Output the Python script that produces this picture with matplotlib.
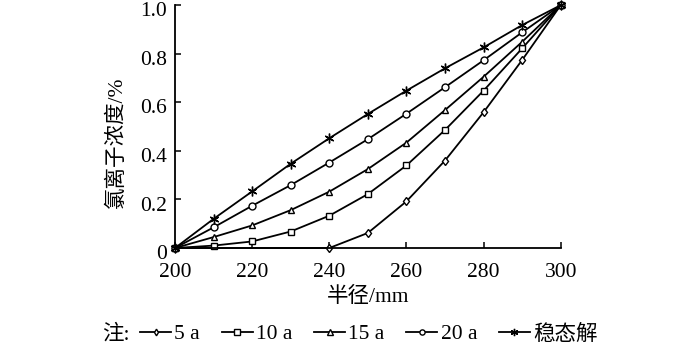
import matplotlib
matplotlib.use("Agg")
import matplotlib.pyplot as plt
import matplotlib.transforms as mtransforms

plt.rcParams['font.family'] = ['Liberation Serif', 'Noto Sans CJK SC']
plt.rcParams['axes.unicode_minus'] = False

# radius (mm) and chloride concentration for each exposure time
r_all = [200, 210, 220, 230, 240, 250, 260, 270, 280, 290, 300]
r_5a = [200, 240, 250, 260, 270, 280, 290, 300]
c_5a = [0, 0, 0.062, 0.192, 0.36, 0.559, 0.774, 1.0]
c_10a = [0, 0.01, 0.027, 0.068, 0.133, 0.222, 0.34, 0.486, 0.648, 0.822, 1.0]
c_15a = [0, 0.045, 0.093, 0.156, 0.232, 0.325, 0.434, 0.568, 0.705, 0.849, 1.0]
c_20a = [0, 0.085, 0.174, 0.259, 0.352, 0.448, 0.553, 0.662, 0.773, 0.888, 1.0]
c_steady = [0, 0.12, 0.233, 0.347, 0.452, 0.552, 0.648, 0.74, 0.826, 0.918, 1.0]

labels = ['5 a', '10 a', '15 a', '20 a', '稳态解']
xticks = [200, 220, 240, 260, 280, 300]
yticks = [0, 0.2, 0.4, 0.6, 0.8, 1.0]
ytick_labels = ['0', '0.2', '0.4', '0.6', '0.8', '1.0']

fs = 15.5
fig = plt.figure(figsize=(7, 3.44), dpi=100)
ax = fig.add_axes([0.25, 0.279, 0.551, 0.706])

series = [
    (r_5a, c_5a, 'd', 4.5),
    (r_all, c_10a, 's', 5),
    (r_all, c_15a, '^', 5),
    (r_all, c_20a, 'o', 5),
    (r_all, c_steady, (6, 2, 0), 7),
]
for (x, y, m, ms), lab in zip(series, labels):
    ax.plot(x, y, color='black', lw=1.3, marker=m, markersize=ms,
            markerfacecolor='white', markeredgecolor='black',
            markeredgewidth=1.0, label=lab, clip_on=False)

ax.set_xlim(200, 300)
ax.set_ylim(0, 1.0)
ax.set_xticks(xticks)
ax.set_yticks(yticks)
ax.set_yticklabels(ytick_labels)
for s in ['top', 'right']:
    ax.spines[s].set_visible(False)
for s in ['left', 'bottom']:
    ax.spines[s].set_linewidth(1.3)
ax.tick_params(direction='in', length=4, width=1.1, labelsize=fs)
ax.tick_params(axis='x', pad=10.5)
ax.tick_params(axis='y', pad=6)

# y tick labels sit a little below their ticks
shift = mtransforms.ScaledTranslation(0, -3 / 72, fig.dpi_scale_trans)
for lbl in ax.get_yticklabels():
    lbl.set_transform(lbl.get_transform() + shift)

ax.set_xlabel('半径/mm', fontsize=fs, va='center')
ax.xaxis.set_label_coords(0.5, -0.2)
ax.set_ylabel('氯离子浓度/%', fontsize=fs, va='center')
ax.yaxis.set_label_coords(-0.15, 0.436)

fig.text(102 / 700, 0.028, '注:', fontsize=fs, ha='left', va='center')
leg = fig.legend(loc='center left', bbox_to_anchor=(140 / 700, 0.028), ncol=5,
                 frameon=False, fontsize=fs, handlelength=1.45,
                 handletextpad=0.15, columnspacing=1.0, borderpad=0,
                 borderaxespad=0, markerscale=0.75)

fig.savefig('out.png', dpi=100)
